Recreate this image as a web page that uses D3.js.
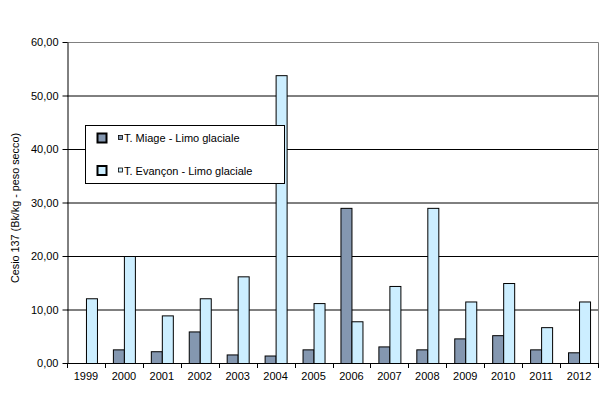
<!DOCTYPE html>
<html><head><meta charset="utf-8">
<script src="https://cdn.jsdelivr.net/npm/d3@7"></script>
<style>body{margin:0;background:#fff}svg{display:block;font-family:Arial,"Liberation Sans",sans-serif}</style>
</head><body><svg id="c" width="613" height="414"></svg>
<script>
const years = ["1999","2000","2001","2002","2003","2004","2005","2006","2007","2008","2009","2010","2011","2012"];
const miage = [null,2.55,2.2,5.9,1.6,1.4,2.55,29.0,3.1,2.55,4.6,5.2,2.55,2.0];
const evancon = [12.1,20.0,8.9,12.1,16.2,53.8,11.2,7.8,14.4,29.0,11.5,14.95,6.7,11.5];
const seriesNames = ["T. Miage - Limo glaciale","T. Evançon - Limo glaciale"];
const seriesColors = ["#8497b0","#cceeff"];
const yTicks = [0,10,20,30,40,50,60];

const svg = d3.select("#c");
const L=67, R=598, T=42, B=363;
const x = d3.scaleBand().domain(years).range([L,R]).paddingInner(0).paddingOuter(0);
const y = d3.scaleLinear().domain([0,60]).range([B,T]);
const fmt = d => d3.format(".2f")(d).replace(".",",");

// gridlines
svg.append("g").selectAll("line").data(yTicks.filter(d=>d>0 && d<60)).join("line")
  .attr("x1",L).attr("x2",R).attr("y1",d=>y(d)+0.5).attr("y2",d=>y(d)+0.5)
  .attr("stroke","#000").attr("stroke-width",1);
// plot border top/right gray
svg.append("path").attr("d",`M${L},${T+0.5}H${R+0.5}V${B}`).attr("fill","none").attr("stroke","#808080");

const bw = 11;
const data = [];
years.forEach((yr,i)=>{
  [miage[i],evancon[i]].forEach((v,s)=>{ if(v!=null) data.push({yr,v,s}); });
});
svg.append("g").selectAll("rect").data(data).join("rect")
  .attr("x",d=>x(d.yr)+x.bandwidth()/2 - bw + d.s*bw + 0.5)
  .attr("y",d=>y(d.v)+0.5)
  .attr("width",bw)
  .attr("height",d=>y(0)-y(d.v))
  .attr("fill",d=>seriesColors[d.s]).attr("stroke","#000").attr("stroke-width",1);

// y axis
const ya = svg.append("g").attr("transform",`translate(${L+0.5},0)`)
  .call(d3.axisLeft(y).tickValues(yTicks).tickFormat(fmt).tickSize(5).tickSizeOuter(0));
ya.select(".domain").attr("stroke","#000");
ya.selectAll("text").attr("font-size",11).attr("fill","#000").attr("font-family","Arial,'Liberation Sans',sans-serif").attr("dx",-1);

// x axis
const xa = svg.append("g").attr("transform",`translate(0,${B+0.5})`)
  .call(d3.axisBottom(x).tickSize(0).tickPadding(9));
xa.select(".domain").attr("d",`M${L},0H${R+0.5}`).attr("stroke","#000");
xa.selectAll("text").attr("font-size",11).attr("fill","#000").attr("font-family","Arial,'Liberation Sans',sans-serif");
// tick marks at category boundaries
const bounds = years.map(d=>x(d)).concat([R]);
svg.append("g").selectAll("line").data(bounds).join("line")
  .attr("x1",d=>Math.round(d)+0.5).attr("x2",d=>Math.round(d)+0.5).attr("y1",B).attr("y2",B+5)
  .attr("stroke","#000");

// axis title
svg.append("text").attr("transform","translate(19,208) rotate(-90)").attr("text-anchor","middle")
  .attr("font-size",11).attr("textLength",150).attr("lengthAdjust","spacingAndGlyphs").text("Cesio 137 (Bk/kg - peso secco)");

// legend
const lg = svg.append("g");
lg.append("rect").attr("x",85.5).attr("y",125.5).attr("width",199).attr("height",58)
  .attr("fill","#fff").attr("stroke","#000");
seriesNames.forEach((n,i)=>{
  const cy = 138 + i*32.5;
  lg.append("rect").attr("x",97.5).attr("y",cy-4.5).attr("width",9).attr("height",9)
    .attr("fill",seriesColors[i]).attr("stroke","#000").attr("stroke-width",2);
  lg.append("rect").attr("x",118.5).attr("y",cy-2.5).attr("width",4).attr("height",4)
    .attr("fill",seriesColors[i]).attr("stroke","#000").attr("stroke-width",0.8);
  lg.append("text").attr("x",124).attr("y",cy+4).attr("font-size",11).text(n);
});
</script></body></html>
